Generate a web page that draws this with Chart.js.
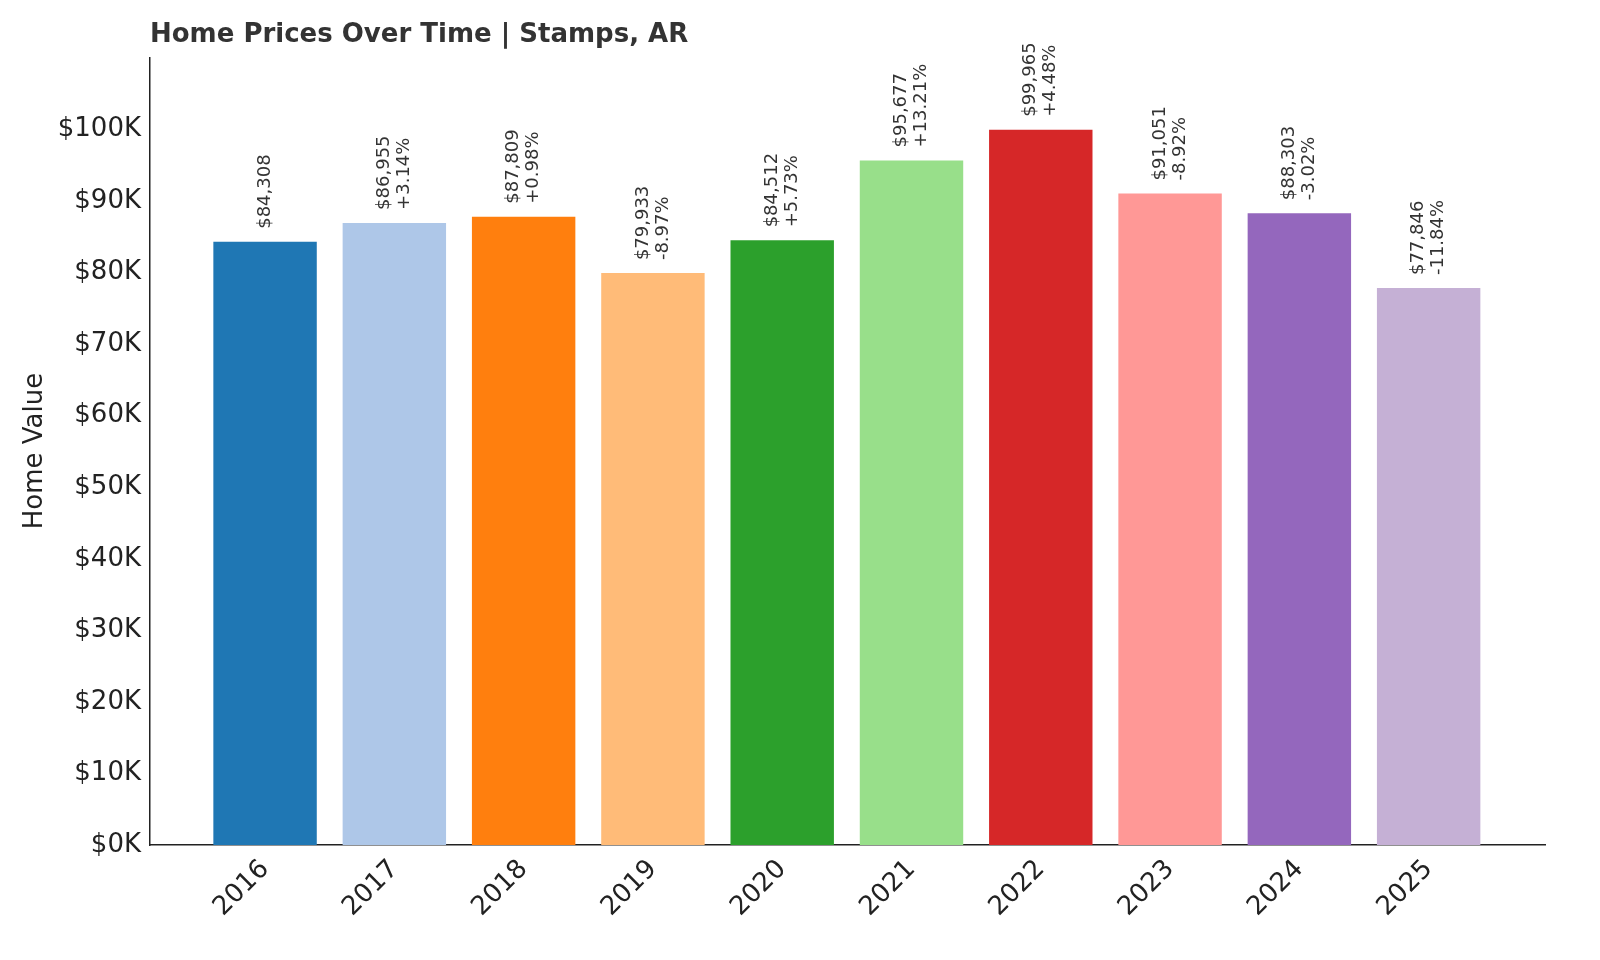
<!DOCTYPE html>
<html>
<head>
<meta charset="utf-8">
<script src="https://cdn.jsdelivr.net/npm/chart.js@4"></script>
<style>
  html, body { margin: 0; padding: 0; background: #fff; }
  #wrap { width: 1600px; height: 960px; }
</style>
</head>
<body>
<div id="wrap"><canvas id="priceChart"></canvas></div>
<script>
// Chart data
const years = ['2016', '2017', '2018', '2019', '2020', '2021', '2022', '2023', '2024', '2025'];
const homeValues = [84308, 86955, 87809, 79933, 84512, 95677, 99965, 91051, 88303, 77846];
const changeLabels = ['', '+3.14%', '+0.98%', '-8.97%', '+5.73%', '+13.21%', '+4.48%', '-8.92%', '-3.02%', '-11.84%'];
const barColors = ['#1f77b4', '#aec7e8', '#ff7f0e', '#ffbb78', '#2ca02c', '#98df8a', '#d62728', '#ff9896', '#9467bd', '#c5b0d5'];

const font = 'DejaVu Sans';

// Title, y axis title and the rotated value labels
const annotations = {
    id: 'annotations',
    afterDatasetsDraw(chart) {
        const ctx = chart.ctx;
        const meta = chart.getDatasetMeta(0);
        ctx.save();
        ctx.fillStyle = '#333';
        ctx.font = 'bold 26px "' + font + '"';
        ctx.textBaseline = 'middle';
        ctx.fillText('Home Prices Over Time | Stamps, AR', 150, 35);

        ctx.fillStyle = '#222';
        ctx.font = '26px "' + font + '"';
        ctx.translate(35, 451);
        ctx.rotate(-Math.PI / 2);
        ctx.textAlign = 'center';
        ctx.fillText('Home Value', 0, 0);
        ctx.restore();

        meta.data.forEach((bar, i) => {
            ctx.save();
            ctx.fillStyle = '#333';
            ctx.font = '18px "' + font + '"';
            ctx.translate(bar.x, bar.y - 13);
            ctx.rotate(-Math.PI / 2);
            ctx.textAlign = 'left';
            ctx.textBaseline = 'middle';
            const value = '$' + homeValues[i].toLocaleString('en-US');
            if (changeLabels[i]) {
                ctx.fillText(value, 0, -10);
                ctx.fillText(changeLabels[i], 0, 10);
            } else {
                ctx.fillText(value, 0, 0);
            }
            ctx.restore();
        });
    }
};

new Chart(document.getElementById('priceChart'), {
    type: 'bar',
    data: {
        datasets: [{
            data: homeValues.map((v, i) => ({ x: i, y: v })),
            backgroundColor: barColors,
            categoryPercentage: 1,
            barPercentage: 0.8
        }]
    },
    options: {
        responsive: true,
        maintainAspectRatio: false,
        animation: false,
        layout: { padding: { top: 58, right: 55, left: 0, bottom: 0 } },
        plugins: { legend: { display: false }, tooltip: { enabled: false } },
        scales: {
            x: {
                type: 'linear',
                offset: false,
                min: -0.89,
                max: 9.9,
                afterFit(scale) { scale.height = 115; },
                afterBuildTicks(scale) { scale.ticks = years.map((y, i) => ({ value: i })); },
                grid: { display: false, drawTicks: true, tickLength: 6, color: '#222' },
                border: { color: '#222', width: 1.5 },
                ticks: {
                    color: '#222',
                    font: { family: font, size: 26 },
                    maxRotation: 45,
                    minRotation: 45,
                    callback: v => years[v]
                }
            },
            y: {
                min: 0,
                max: 110000,
                afterFit(scale) { scale.width = 150; },
                afterBuildTicks(scale) { scale.ticks = scale.ticks.filter(t => t.value <= 100000); },
                grid: { display: false, drawTicks: true, tickLength: 6, color: '#222' },
                border: { color: '#222', width: 1.5 },
                ticks: {
                    stepSize: 10000,
                    color: '#222',
                    font: { family: font, size: 26 },
                    callback: v => '$' + (v / 1000) + 'K'
                }
            }
        }
    },
    plugins: [annotations]
});
</script>
</body>
</html>
